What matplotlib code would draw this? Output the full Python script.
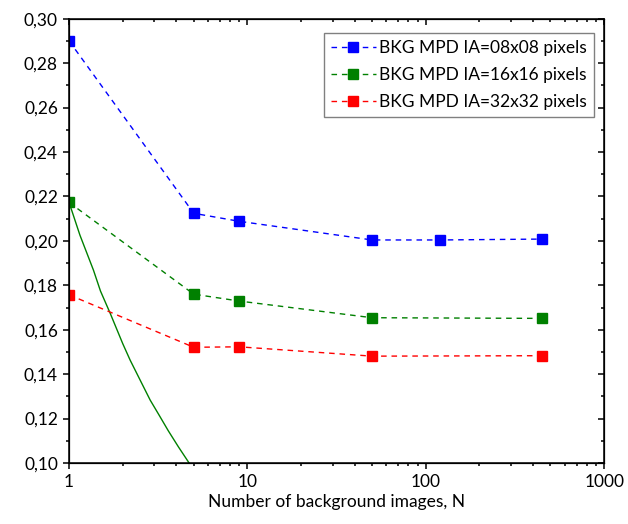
import matplotlib
matplotlib.use('Agg')
import matplotlib.pyplot as plt
from matplotlib.ticker import FuncFormatter, MultipleLocator, LogLocator, NullFormatter, FixedLocator

plt.rcParams['font.family'] = ['Lato', 'DejaVu Sans']

# data
N = [1, 5, 9, 50, 120, 450]
N_short = [1, 5, 9, 50, 450]
mpd_08 = [0.2900, 0.2124, 0.2088, 0.2004, 0.2004, 0.2008]
mpd_16 = [0.2173, 0.1760, 0.1729, 0.1654, 0.1651]
mpd_32 = [0.1757, 0.1521, 0.1523, 0.1481, 0.1483]
labels = ['BKG MPD IA=08x08 pixels', 'BKG MPD IA=16x16 pixels', 'BKG MPD IA=32x32 pixels']

# solid green reference curve
ref_x = [1, 1.15, 1.37, 1.5, 1.7, 2.0, 2.2, 2.5, 2.85, 3.2, 3.6, 4.1, 4.71]
ref_y = [0.2173, 0.2026, 0.1868, 0.1774, 0.1674, 0.1537, 0.1463, 0.1374, 0.1283, 0.1215, 0.1145, 0.1073, 0.1000]

fig = plt.figure(figsize=(6.28, 5.24), dpi=100)
ax = fig.add_axes([0.110, 0.1164, 0.852, 0.8479])

dash = (0, (4, 3.5))
ax.plot(N, mpd_08, color='#0000ff', ls=dash, lw=1, marker='s', ms=7, label=labels[0])
ax.plot(N_short, mpd_16, color='#008000', ls=dash, lw=1, marker='s', ms=7, label=labels[1])
ax.plot(N_short, mpd_32, color='#ff0000', ls=dash, lw=1, marker='s', ms=7, label=labels[2])
ax.plot(ref_x, ref_y, color='#008000', lw=1, zorder=1)

ax.set_xscale('log')
ax.set_xlim(1, 1000)
ax.set_ylim(0.10, 0.30)
ax.xaxis.set_major_locator(FixedLocator([1, 10, 100, 1000]))
ax.xaxis.set_major_formatter(FuncFormatter(lambda v, p: '%d' % v))
ax.xaxis.set_minor_locator(LogLocator(base=10, subs=range(2, 10)))
ax.xaxis.set_minor_formatter(NullFormatter())
ax.yaxis.set_major_locator(MultipleLocator(0.02))
ax.yaxis.set_minor_locator(MultipleLocator(0.01))
ax.yaxis.set_major_formatter(FuncFormatter(lambda v, p: ('%.2f' % v).replace('.', ',')))
ax.tick_params(which='major', direction='out', length=4.5, width=1.1, labelsize=12.5)
ax.tick_params(which='minor', direction='out', length=2.5, width=1.1)
for s in ax.spines.values():
    s.set_linewidth(1.1)
ax.set_xlabel('Number of background images, N', fontsize=12.5, labelpad=3)

# mirrored ticks pointing inward on top and right
top = ax.twiny()
top.set_xscale('log')
top.set_xlim(1, 1000)
top.xaxis.set_minor_locator(LogLocator(base=10, subs=range(2, 10)))
top.tick_params(which='both', direction='in', labeltop=False)
top.tick_params(which='major', length=4.5, width=1.1)
top.tick_params(which='minor', length=2.5, width=1.1)
right = ax.twinx()
right.set_ylim(0.10, 0.30)
right.yaxis.set_major_locator(MultipleLocator(0.02))
right.yaxis.set_minor_locator(MultipleLocator(0.01))
right.tick_params(which='both', direction='in', labelright=False)
right.tick_params(which='major', length=4.5, width=1.1)
right.tick_params(which='minor', length=2.5, width=1.1)

leg = ax.legend(loc='upper right', bbox_to_anchor=(0.981, 0.968), fontsize=12.5, fancybox=False,
                edgecolor='#808080', framealpha=1, handlelength=2.6, handletextpad=0.2,
                borderpad=0.4, labelspacing=0.65, borderaxespad=0)
leg.get_frame().set_linewidth(1)

plt.savefig('out.png', dpi=100)
